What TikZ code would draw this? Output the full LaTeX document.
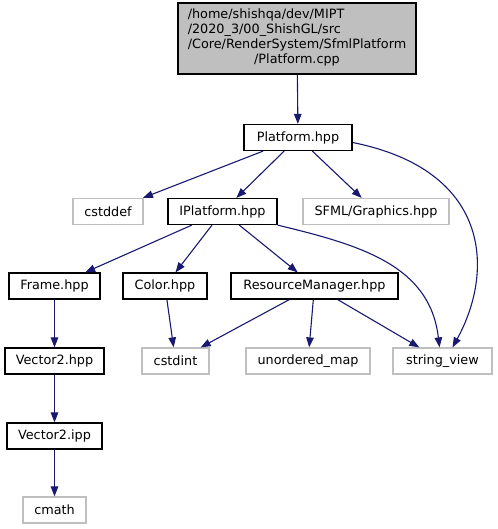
\documentclass[tikz,border=0pt]{standalone}
\usepackage{fontspec}
\setmainfont{DejaVu Sans}
\usetikzlibrary{arrows.meta}
\definecolor{edgeblue}{HTML}{191970}
\definecolor{sysgray}{HTML}{BFBFBF}

\begin{document}
\begin{tikzpicture}[x=1pt, y=-1pt, font=\fontsize{12.8}{15}\selectfont,
	file/.style={draw=black, line width=1.2pt, minimum height=26pt, inner sep=0pt},
	sys/.style={draw=sysgray, line width=1.2pt, minimum height=26pt, inner sep=0pt},
	dep/.style={draw=edgeblue, line width=1.1pt, -{Triangle[length=10pt,width=7.5pt]}}]
	
	\useasboundingbox (0,0) rectangle (497,529);
	
	% file radice
	\node[file, fill=sysgray, minimum width=238pt, minimum height=71pt] (root) at (297,38.5)
		{\begin{tabular}{@{}l@{}}/home/shishqa/dev/MIPT\\/2020\_3/00\_ShishGL/src\\/Core/RenderSystem/SfmlPlatform\\ \multicolumn{1}{@{}c@{}}{/Platform.cpp}\end{tabular}};
	
	% primo livello
	\node[file, minimum width=108pt] (plat) at (298,137.5) {Platform.hpp};
	
	% secondo livello
	\node[sys, minimum width=70pt] (cstddef) at (108,211.5) {cstddef};
	\node[file, minimum width=109pt] (iplat) at (222.5,211.5) {IPlatform.hpp};
	\node[sys, minimum width=146pt] (sfml) at (376,211.5) {SFML/Graphics.hpp};
	
	% terzo livello
	\node[file, minimum width=91pt] (frame) at (54.5,286) {Frame.hpp};
	\node[file, minimum width=84pt] (color) at (165,286) {Color.hpp};
	\node[file, minimum width=167pt] (resman) at (314.5,286) {ResourceManager.hpp};
	
	% quarto livello
	\node[file, minimum width=99pt] (vechpp) at (54.5,361) {Vector2.hpp};
	\node[sys, minimum width=67pt] (cstdint) at (175.5,361) {cstdint};
	\node[sys, minimum width=124pt] (umap) at (308,361) {unordered\_map};
	\node[sys, minimum width=99pt] (strview) at (442.5,361) {string\_view};
	
	% catena di Vector2
	\node[file, minimum width=95pt] (vecipp) at (54.5,436) {Vector2.ipp};
	\node[sys, minimum width=63pt] (cmath) at (54.5,510) {cmath};
	
	% archi
	\draw[dep] (root) -- (plat);
	\draw[dep] (plat) -- (cstddef);
	\draw[dep] (plat) -- (iplat);
	\draw[dep] (plat) -- (sfml);
	\draw[dep] ([yshift=-5pt]plat.east) .. controls (490,170) and (495,270) .. ([xshift=10pt]strview.north);
	
	\draw[dep] (iplat) -- (frame);
	\draw[dep] (iplat) -- (color);
	\draw[dep] (iplat) -- (resman);
	\draw[dep] (iplat.south east) .. controls (360,245) and (430,265) .. ([xshift=-3pt]strview.north);
	
	\draw[dep] (color) -- (cstdint);
	\draw[dep] (resman) -- (cstdint);
	\draw[dep] (resman) -- (umap);
	\draw[dep] (resman) -- (strview);
	
	\draw[dep] (frame) -- (vechpp);
	\draw[dep] (vechpp) -- (vecipp);
	\draw[dep] (vecipp) -- (cmath);
	
\end{tikzpicture}
\end{document}
